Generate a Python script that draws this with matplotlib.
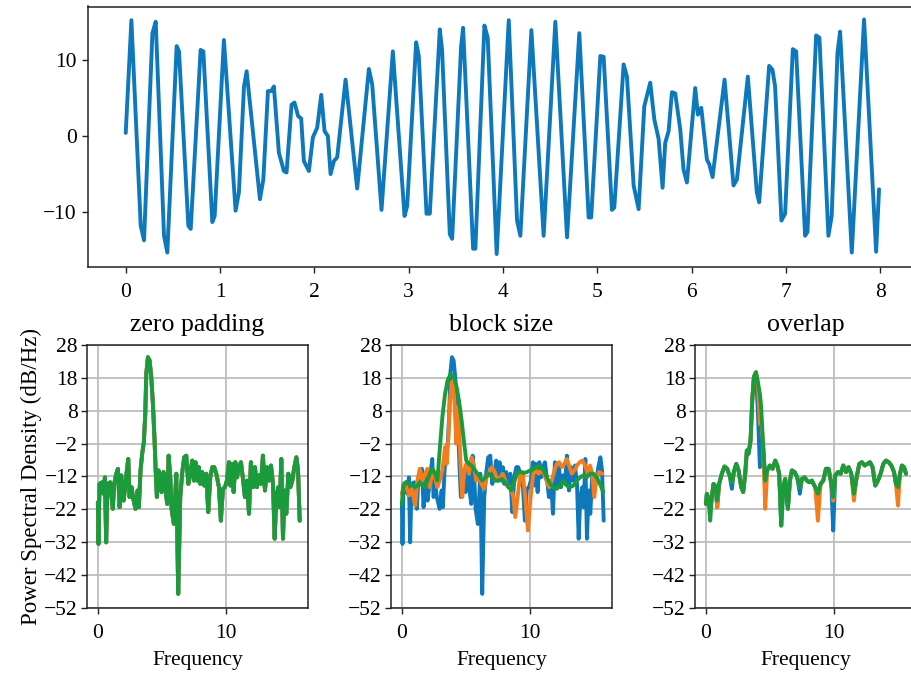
import numpy as np
import matplotlib.pyplot as plt

plt.rcParams['font.family'] = ['Liberation Serif', 'DejaVu Serif']
plt.rcParams['font.size'] = 15.5

# --- signal (top panel) ---
t_sig = [0.000, 0.060, 0.159, 0.194, 0.283, 0.318, 0.406, 0.441, 0.540, 0.565,
         0.664, 0.689, 0.794, 0.823, 0.918, 0.943, 1.041, 1.165, 1.200, 1.254,
         1.282, 1.423, 1.459, 1.508, 1.543, 1.571, 1.624, 1.677, 1.705, 1.758,
         1.789, 1.828, 1.860, 1.889, 1.942, 1.984, 2.030, 2.073, 2.108, 2.143,
         2.172, 2.207, 2.242, 2.331, 2.383, 2.454, 2.578, 2.613, 2.712, 2.832,
         2.956, 2.984, 3.079, 3.107, 3.189, 3.224, 3.330, 3.354, 3.436, 3.461,
         3.556, 3.577, 3.683, 3.707, 3.803, 3.838, 3.933, 4.061, 4.149, 4.184,
         4.301, 4.431, 4.555, 4.679, 4.809, 4.908, 4.935, 5.032, 5.067, 5.155,
         5.180, 5.279, 5.314, 5.385, 5.438, 5.498, 5.561, 5.604, 5.650, 5.692,
         5.720, 5.756, 5.791, 5.826, 5.879, 5.914, 5.950, 6.038, 6.066, 6.102,
         6.162, 6.187, 6.222, 6.349, 6.444, 6.480, 6.596, 6.691, 6.716, 6.822,
         6.857, 6.885, 6.952, 6.991, 7.073, 7.108, 7.203, 7.228, 7.320, 7.355,
         7.450, 7.485, 7.546, 7.574, 7.698, 7.828, 7.956, 7.987]
y_sig = [0.4, 15.2, -11.8, -13.7, 13.5, 15.0, -13.1, -15.3, 11.8, 11.1,
         -11.8, -12.2, 11.3, 11.1, -11.3, -10.5, 12.6, -9.8, -7.4, 6.5,
         8.5, -8.3, -5.7, 5.9, 5.9, 6.5, -2.2, -4.6, -4.8, 4.1,
         4.4, 2.6, 2.3, -3.3, -4.6, -0.2, 1.1, 5.4, 0.65, 0.0,
         -5.0, -3.3, -2.8, 7.4, 1.3, -6.9, 8.8, 6.8, -9.7, 11.1,
         -10.5, -9.2, 12.3, 10.5, -10.2, -10.2, 14.0, 11.3, -12.9, -13.5,
         11.8, 14.2, -14.8, -14.8, 14.5, 12.9, -15.5, 15.2, -11.1, -13.1,
         13.9, -13.1, 15.0, -13.3, 13.5, -10.7, -10.7, 10.5, 10.4, -9.7,
         -9.4, 9.4, 7.8, -6.5, -9.6, 3.9, 7.0, 2.2, -0.4, -6.8,
         -0.9, 0.65, 5.75, 5.6, 0.9, -4.4, -6.1, 6.3, 2.8, 3.7,
         -3.1, -3.7, -5.4, 7.4, -6.5, -5.7, 7.8, -7.4, -8.7, 9.2,
         8.7, 6.5, -11.1, -10.2, 11.4, 11.1, -13.1, -12.6, 13.2, 12.9,
         -13.1, -10.5, 10.9, 13.7, -15.3, 15.3, -15.2, -7.0]

# --- PSD, full block (NFFT = len(t)) ---
f_full = [0.00, 0.05, 0.13, 0.34, 0.44, 0.55, 0.65, 0.76, 0.97, 1.17, 1.28, 1.44,
          1.57, 1.70, 1.83, 2.01, 2.14, 2.27, 2.38, 2.48, 2.64, 2.74, 2.95, 3.11,
          3.21, 3.34, 3.47, 3.60, 3.71, 3.79, 3.92, 4.05, 4.18, 4.31, 4.44, 4.52,
          4.62, 4.75, 4.88, 4.99, 5.14, 5.27, 5.43, 5.54, 5.67, 5.77, 5.95, 6.14,
          6.29, 6.45, 6.61, 6.76, 6.92, 7.08, 7.23, 7.39, 7.52, 7.65, 7.78, 7.91,
          8.02, 8.17, 8.33, 8.49, 8.64, 8.80, 8.96, 9.11, 9.27, 9.48, 9.63, 9.79,
          9.95, 10.10, 10.26, 10.37, 10.47, 10.63, 10.76, 10.89, 11.04, 11.20, 11.36, 11.51,
          11.67, 11.83, 11.98, 12.14, 12.30, 12.45, 12.61, 12.77, 12.92, 13.08, 13.24, 13.39,
          13.55, 13.71, 13.84, 13.97, 14.13, 14.23, 14.36, 14.49, 14.62, 14.75, 14.91, 15.07,
          15.22, 15.38, 15.54, 15.67, 15.80]
psd_full = [-19.9, -32.6, -14.3, -13.8, -17.3, -12.3, -32.1, -14.3, -13.8, -21.9, -14.3, -11.2,
            -9.7, -21.4, -11.7, -19.4, -15.3, -10.2, -6.7, -18.3, -15.3, -18.3, -21.9, -16.3,
            -21.4, -10.2, -5.1, -1.6, 7.0, 19.2, 24.3, 23.3, 18.2, 10.1, -1.1, -9.7,
            -18.3, -10.2, -13.3, -16.8, -10.7, -15.3, -20.4, -5.7, -12.3, -21.9, -26.5, -11.2,
            -47.8, -18.3, -10.7, -6.2, -5.7, -14.3, -11.2, -7.2, -13.3, -7.7, -13.3, -9.2,
            -14.3, -10.7, -14.8, -11.2, -22.9, -12.3, -9.2, -9.2, -11.2, -15.3, -25.5, -15.8,
            -15.3, -13.3, -7.7, -14.8, -8.2, -16.8, -7.7, -12.3, -9.2, -7.7, -12.8, -18.3,
            -13.3, -23.4, -7.7, -15.3, -9.2, -15.3, -11.7, -14.3, -5.7, -16.3, -9.2, -13.3,
            -8.7, -14.3, -31.0, -18.3, -15.3, -21.4, -6.7, -31.0, -16.3, -23.4, -11.2, -15.3,
            -13.3, -9.2, -6.2, -10.2, -25.5]

# --- PSD, half block (NFFT = len(t)//2) ---
f_half = [0.00, 0.18, 0.36, 0.57, 0.78, 1.04, 1.22, 1.40, 1.61, 1.82, 2.00, 2.18,
          2.39, 2.60, 2.78, 2.96, 3.17, 3.38, 3.51, 3.64, 3.77, 3.90, 4.03, 4.13,
          4.26, 4.36, 4.47, 4.60, 4.73, 4.88, 5.04, 5.25, 5.45, 5.64, 5.82, 6.03,
          6.23, 6.44, 6.68, 6.86, 7.06, 7.27, 7.48, 7.69, 7.90, 8.10, 8.31, 8.52,
          8.73, 8.88, 9.09, 9.27, 9.45, 9.66, 9.87, 10.08, 10.29, 10.49, 10.70, 10.91,
          11.12, 11.32, 11.53, 11.74, 11.95, 12.13, 12.31, 12.52, 12.73, 12.91, 13.09, 13.30,
          13.51, 13.71, 13.92, 14.13, 14.34, 14.55, 14.73, 14.91, 15.06, 15.22, 15.43, 15.69]
psd_half = [-17.3, -14.3, -15.3, -17.8, -15.8, -20.9, -13.3, -9.7, -13.3, -11.2, -9.7, -15.3,
            -10.7, -12.3, -15.3, -13.3, -10.2, -3.1, -8.2, -0.6, 11.1, 16.7, 15.2, 10.1,
            -2.1, 9.1, 5.0, -9.2, -18.3, -10.2, -8.2, -11.2, -6.2, -8.7, -13.3, -12.3,
            -14.3, -15.8, -11.7, -10.7, -9.2, -10.7, -13.3, -12.3, -11.2, -13.3, -15.3, -15.3,
            -18.3, -24.4, -17.3, -11.2, -10.7, -18.3, -28.5, -18.3, -11.2, -10.2, -11.2, -10.2,
            -11.2, -13.3, -15.3, -13.3, -10.2, -8.2, -7.7, -9.2, -8.2, -6.7, -8.7, -11.2,
            -10.2, -8.7, -7.7, -7.2, -8.7, -11.2, -8.7, -11.2, -18.3, -13.3, -10.7, -11.2]

# --- PSD, quarter block (NFFT = len(t)//4) ---
f_quarter = [0.00, 0.10, 0.31, 0.57, 0.83, 1.04, 1.22, 1.40, 1.61, 1.82, 2.00, 2.18,
             2.39, 2.60, 2.78, 2.96, 3.17, 3.38, 3.58, 3.82, 4.03, 4.26, 4.47, 4.68,
             4.88, 5.04, 5.25, 5.45, 5.64, 5.82, 6.03, 6.29, 6.55, 6.81, 7.06, 7.32,
             7.58, 7.84, 8.10, 8.36, 8.57, 8.75, 9.01, 9.27, 9.53, 9.79, 10.05, 10.31,
             10.57, 10.83, 11.09, 11.35, 11.61, 11.87, 12.13, 12.39, 12.65, 12.91, 13.17, 13.43,
             13.69, 13.95, 14.21, 14.47, 14.73, 14.99, 15.25, 15.51, 15.77]
psd_quarter = [-20.4, -15.3, -13.8, -14.3, -14.8, -15.3, -14.8, -13.8, -14.8, -15.3, -13.3, -11.2,
               -9.7, -11.2, -13.3, -4.1, 6.0, 13.1, 17.2, 19.2, 18.4, 15.7, 11.1, 5.0,
               -2.1, -7.2, -8.2, -8.7, -9.7, -10.7, -11.7, -13.3, -12.3, -11.2, -12.3, -13.3,
               -13.3, -12.8, -13.8, -15.3, -16.3, -14.3, -11.2, -10.7, -11.0, -10.7, -10.2, -9.7,
               -9.0, -9.0, -10.2, -12.3, -14.3, -15.3, -15.8, -14.8, -13.3, -14.8, -15.3, -14.8,
               -13.3, -12.3, -11.7, -12.3, -11.2, -11.2, -12.3, -14.3, -16.8]

# --- PSD, overlap panel (NFFT = len(t)//2, three overlaps) ---
f_ovl = [0.00, 0.08, 0.21, 0.34, 0.47, 0.60, 0.73, 0.89, 1.04, 1.25, 1.46, 1.67,
         1.85, 2.04, 2.19, 2.38, 2.56, 2.77, 2.92, 3.08, 3.21, 3.34, 3.50, 3.63,
         3.76, 3.92, 4.07, 4.23, 4.33, 4.46, 4.65, 4.80, 5.01, 5.22, 5.43, 5.59,
         5.74, 5.90, 6.06, 6.21, 6.42, 6.58, 6.74, 6.95, 7.15, 7.36, 7.52, 7.73,
         7.91, 8.09, 8.30, 8.56, 8.77, 8.98, 9.19, 9.40, 9.61, 9.82, 9.97, 10.13,
         10.34, 10.55, 10.76, 10.97, 11.17, 11.38, 11.59, 11.80, 12.01, 12.22, 12.43, 12.64,
         12.85, 13.05, 13.26, 13.47, 13.68, 13.89, 14.10, 14.31, 14.52, 14.73, 14.88, 15.04,
         15.20, 15.35, 15.51, 15.67]
psd_ovl_0 = [-20.4, -17.3, -18.9, -21.4, -18.3, -14.3, -14.8, -21.4, -14.3, -11.2, -9.0, -9.7,
             -11.7, -15.8, -10.7, -8.2, -10.2, -15.3, -16.8, -11.2, -4.1, -5.1, -1.1, 11.1,
             18.2, 19.7, 8.0, -9.2, 0.0, -1.1, -13.3, -10.2, -8.7, -9.7, -7.2, -8.7,
             -11.2, -27.0, -15.3, -12.8, -21.9, -13.3, -10.2, -10.7, -12.3, -17.3, -12.8, -12.3,
             -13.3, -13.8, -13.3, -15.3, -17.3, -14.3, -13.3, -9.7, -9.7, -14.3, -28.5, -11.7,
             -10.7, -11.2, -8.7, -10.7, -9.2, -11.2, -17.3, -12.3, -8.2, -7.7, -8.7, -8.2,
             -7.7, -9.2, -14.8, -13.3, -11.2, -8.2, -7.2, -7.7, -8.7, -10.7, -14.3, -15.3,
             -11.2, -8.7, -9.2, -11.2]
psd_ovl_1 = [-20.4, -17.3, -18.9, -22.0, -18.3, -14.3, -14.8, -21.4, -14.3, -11.2, -9.0, -9.7,
             -11.7, -13.8, -10.7, -8.2, -10.2, -15.3, -16.8, -11.2, -4.1, -5.1, -1.1, 11.1,
             18.2, 19.7, 16.7, 4.0, 6.0, -1.1, -21.9, -10.2, -8.7, -9.7, -7.2, -8.7,
             -11.2, -25.0, -15.3, -12.8, -21.9, -13.3, -10.2, -10.7, -12.3, -15.3, -12.8, -12.3,
             -13.3, -13.8, -13.3, -15.3, -25.5, -14.3, -13.3, -9.7, -9.7, -14.3, -19.4, -11.7,
             -10.7, -11.2, -8.7, -10.7, -9.2, -11.2, -19.4, -12.3, -8.2, -7.7, -8.7, -8.2,
             -7.7, -9.2, -14.8, -13.3, -11.2, -8.2, -7.2, -7.7, -8.7, -10.7, -14.3, -20.9,
             -11.2, -8.7, -9.2, -11.2]
psd_ovl_2 = [-20.4, -17.3, -18.9, -25.5, -18.3, -14.3, -14.8, -19.4, -14.3, -11.2, -9.0, -9.7,
             -11.7, -13.8, -10.7, -8.2, -10.2, -15.3, -16.8, -11.2, -4.1, -5.1, -1.1, 11.1,
             18.2, 19.7, 16.7, 13.1, 9.1, -1.1, -13.3, -10.2, -8.7, -9.7, -7.2, -8.7,
             -11.2, -27.0, -15.3, -12.8, -21.9, -13.3, -10.2, -10.7, -12.3, -15.3, -12.8, -12.3,
             -13.3, -13.8, -13.3, -15.3, -17.3, -14.3, -13.3, -9.7, -9.7, -14.3, -18.3, -11.7,
             -10.7, -11.2, -8.7, -10.7, -9.2, -11.2, -17.3, -12.3, -8.2, -7.7, -8.7, -8.2,
             -7.7, -9.2, -14.8, -13.3, -11.2, -8.2, -7.2, -7.7, -8.7, -10.7, -14.3, -15.3,
             -11.2, -8.7, -9.2, -11.2]

titles = ['zero padding', 'block size', 'overlap']
yticks = np.arange(-52, 29, 10)

BLUE = '#0e78bd'
ORANGE = '#f27d1e'
GREEN = '#1b9c3c'
LW = 2.8
line_kw = dict(lw=LW, solid_joinstyle='round', solid_capstyle='round')

W, H = 911, 673
fig = plt.figure(figsize=(W / 100, H / 100), dpi=100)


def px_axes(left, top, right, bottom):
    return fig.add_axes([left / W, 1 - bottom / H, (right - left) / W, (bottom - top) / H])


def style(ax, ypad=3.5):
    for s in ax.spines.values():
        s.set_linewidth(1.1)
        s.set_color('#222222')
    ax.tick_params(width=1.0, length=4.5, color='#222222')
    ax.tick_params(axis='x', pad=7)
    ax.tick_params(axis='y', pad=ypad)


ax0 = px_axes(88, 6.5, 918, 267)
ax0.plot(t_sig, y_sig, color=BLUE, **line_kw)
ax0.set_xlim(-0.4, 8.4)
ax0.set_ylim(-17.2, 17.0)
ax0.set_xticks(range(9))
ax0.set_yticks([-10, 0, 10])
style(ax0)

lefts = [87, 391, 695]
axes = [px_axes(l, 345, l + 221, 607.7) for l in lefts]

a1, a2, a3 = axes
a1.plot(f_full, psd_full, color=BLUE, **line_kw)
a1.plot(f_full, psd_full, color=ORANGE, **line_kw)
a1.plot(f_full, psd_full, color=GREEN, **line_kw)

a2.plot(f_full, psd_full, color=BLUE, **line_kw)
a2.plot(f_half, psd_half, color=ORANGE, **line_kw)
a2.plot(f_quarter, psd_quarter, color=GREEN, **line_kw)

a3.plot(f_ovl, psd_ovl_0, color=BLUE, **line_kw)
a3.plot(f_ovl, psd_ovl_1, color=ORANGE, **line_kw)
a3.plot(f_ovl, psd_ovl_2, color=GREEN, **line_kw)

for ax, title in zip(axes, titles):
    ax.set_xlim(-0.85, 16.45)
    ax.set_ylim(-52, 28)
    ax.set_yticks(yticks)
    ax.set_xticks([0, 10])
    ax.grid(True, color='#bdbdbd', lw=1.3)
    ax.set_title(title, pad=10)
    ax.set_xlabel('Frequency', labelpad=6)
    style(ax, ypad=2)

a1.set_ylabel('Power Spectral Density (dB/Hz)', labelpad=2, fontsize=16.5)

fig.savefig('out.png', dpi=100)
